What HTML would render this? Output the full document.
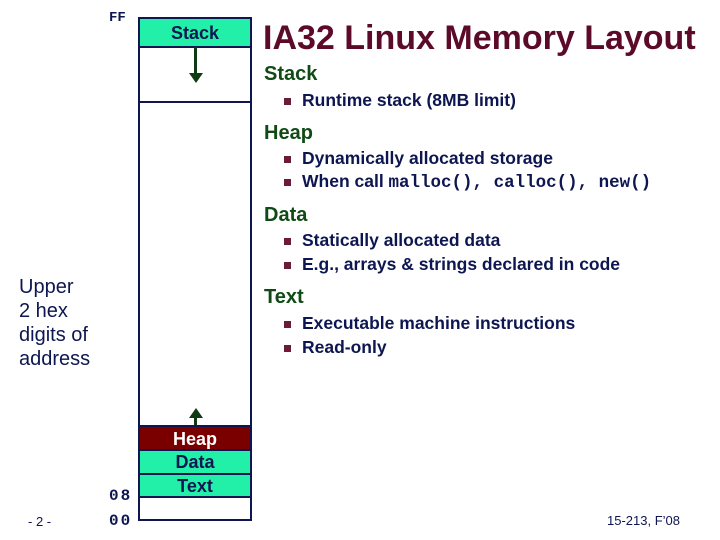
<!DOCTYPE html>
<html><head><style>
body{margin:0;width:720px;height:540px;background:#fff;position:relative;font-family:"Liberation Sans",sans-serif;overflow:hidden}
.a{position:absolute;white-space:nowrap}
.h{color:#104a14;font-size:20px;font-weight:bold}
.b{color:#0d1650;font-size:17.5px;font-weight:bold}
.sq{position:absolute;width:7px;height:7px;background:#6b1a3a}
.m{font-family:"Liberation Mono",monospace;font-weight:bold}
.band{position:absolute;left:138px;width:114px;text-align:center;font-size:18px;font-weight:bold;box-sizing:border-box}
</style></head><body>
<div class="a m" style="left:109px;top:10px;font-size:14px;color:#0d1650">FF</div>
<div style="position:absolute;left:138px;top:17px;width:114px;height:504px;border:2px solid #0d1650;box-sizing:border-box"></div>
<div class="band" style="top:17px;height:31px;background:#22f0a8;border:2px solid #0d1650;color:#0d1650;line-height:28px">Stack</div>
<div style="position:absolute;left:138px;top:101px;width:114px;height:2px;background:#0d1650"></div>
<div style="position:absolute;left:194px;top:47px;width:3px;height:28px;background:#0f3a14"></div>
<div style="position:absolute;left:189px;top:73px;width:0;height:0;border-left:7px solid transparent;border-right:7px solid transparent;border-top:10px solid #0f3a14"></div>
<div style="position:absolute;left:189px;top:408px;width:0;height:0;border-left:7px solid transparent;border-right:7px solid transparent;border-bottom:10px solid #0f3a14"></div>
<div style="position:absolute;left:194px;top:416px;width:3px;height:11px;background:#0f3a14"></div>
<div class="band" style="top:425px;height:26px;background:#7a0000;color:#fff;border:2px solid #0d1650;line-height:24px">Heap</div>
<div class="band" style="top:449px;height:26px;background:#22f0a8;color:#0d1650;border:2px solid #0d1650;line-height:22px">Data</div>
<div class="band" style="top:473px;height:25px;background:#22f0a8;color:#0d1650;border:2px solid #0d1650;line-height:22px">Text</div>
<div class="a m" style="left:109px;top:487px;font-size:16px;color:#0d1650;letter-spacing:2px">08</div>
<div class="a m" style="left:109px;top:512px;font-size:16px;color:#0d1650;letter-spacing:2px">00</div>
<div class="a" style="left:28px;top:514px;font-size:13px;color:#0d1650">- 2 -</div>
<div class="a" style="left:19px;top:275px;font-size:20px;color:#0d1650;line-height:24px">Upper<br>2 hex<br>digits of<br>address</div>
<div class="a" style="left:263px;top:19px;font-size:34px;font-weight:bold;color:#5c0a2a">IA32 Linux Memory Layout</div>
<div class="a h" style="left:264px;top:63px">Stack</div>
<div class="sq" style="left:284px;top:98px"></div><div class="a b" style="left:302px;top:90px">Runtime stack (8MB limit)</div>
<div class="a h" style="left:264px;top:122px">Heap</div>
<div class="sq" style="left:284px;top:156px"></div><div class="a b" style="left:302px;top:148px">Dynamically allocated storage</div>
<div class="sq" style="left:284px;top:179px"></div><div class="a b" style="left:302px;top:171px">When call <span class="m" style="font-size:17.5px">malloc(), calloc(), new()</span></div>
<div class="a h" style="left:264px;top:204px">Data</div>
<div class="sq" style="left:284px;top:238px"></div><div class="a b" style="left:302px;top:230px">Statically allocated data</div>
<div class="sq" style="left:284px;top:262px"></div><div class="a b" style="left:302px;top:254px">E.g., arrays &amp; strings declared in code</div>
<div class="a h" style="left:264px;top:286px">Text</div>
<div class="sq" style="left:284px;top:321px"></div><div class="a b" style="left:302px;top:313px">Executable machine instructions</div>
<div class="sq" style="left:284px;top:345px"></div><div class="a b" style="left:302px;top:337px">Read-only</div>
<div class="a" style="left:607px;top:513px;font-size:13px;color:#0d1650">15-213, F’08</div>
</body></html>
